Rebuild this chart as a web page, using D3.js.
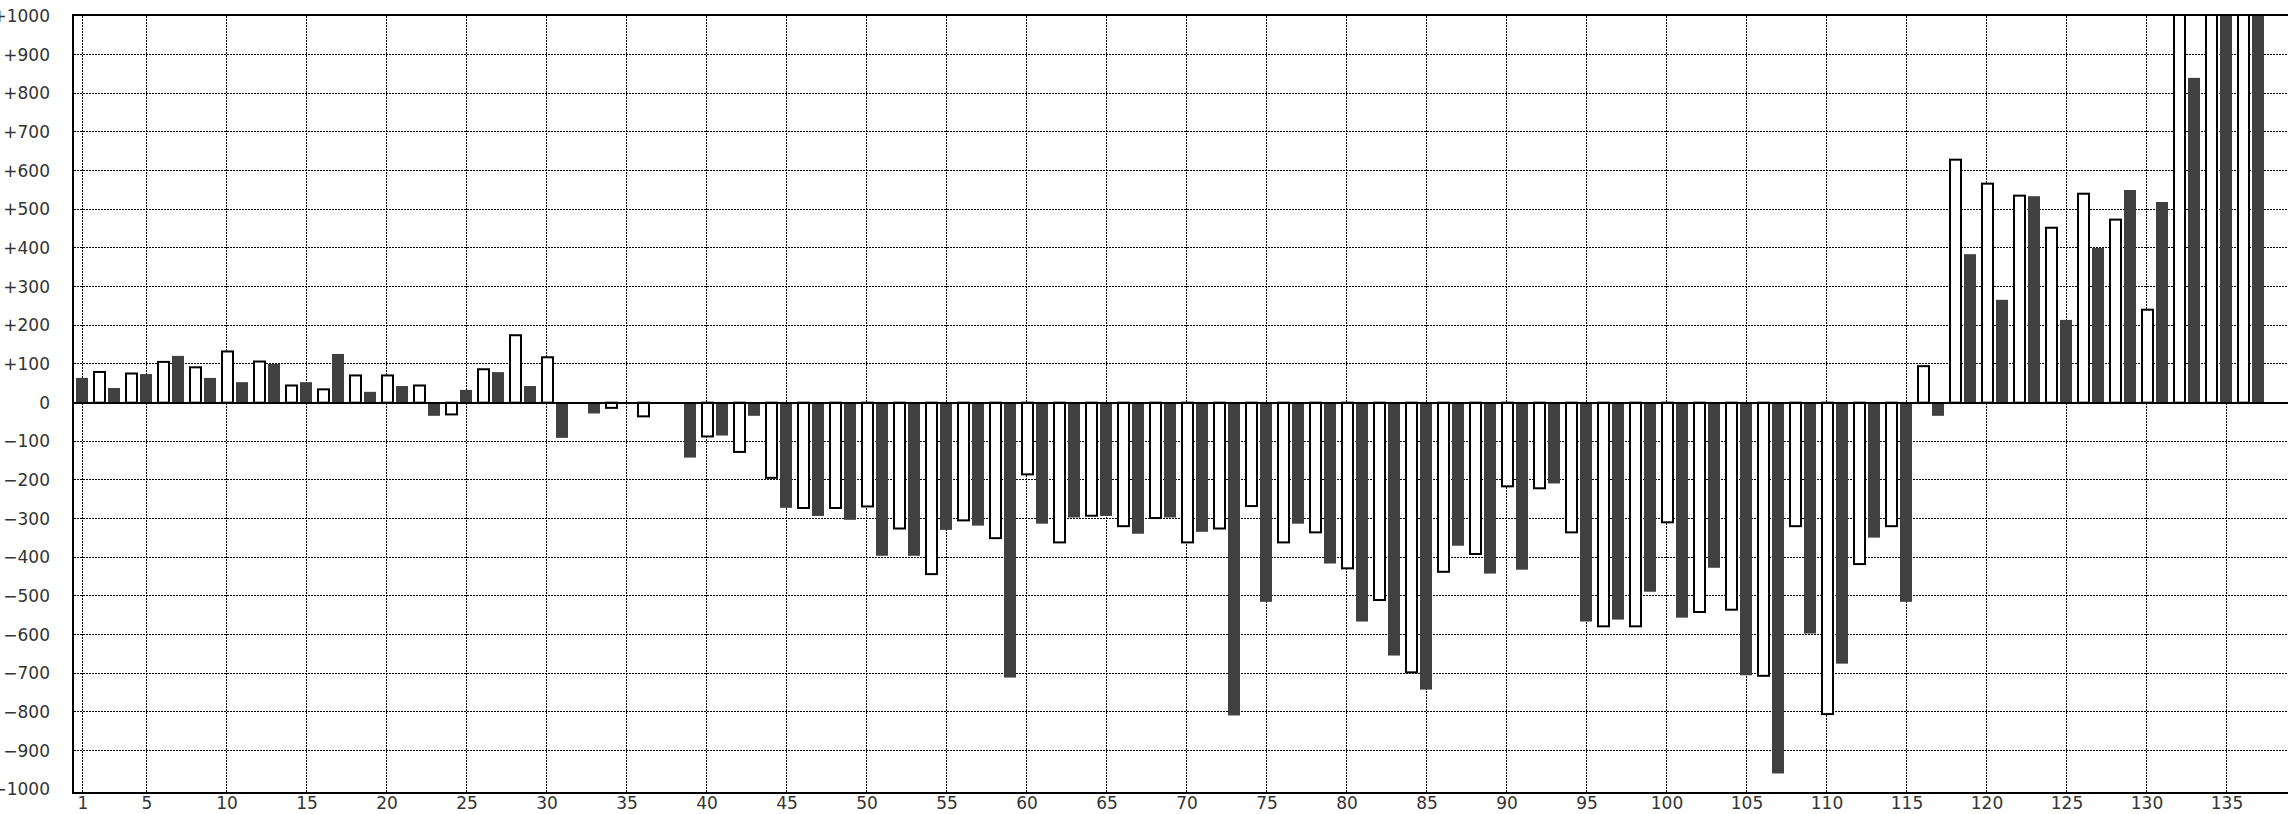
<!DOCTYPE html>
<html>
<head>
<meta charset="utf-8">
<script src="https://cdn.jsdelivr.net/npm/d3@7"></script>
<style>
  html, body { margin: 0; padding: 0; background: #fff; }
  svg { display: block; }
  text { font-family: "DejaVu Sans", sans-serif; font-size: 17px; fill: #333; }
</style>
</head>
<body>
<svg id="chart" width="2288" height="814"></svg>
<script>
// ---- data ----
const categories = d3.range(1, 138); // bar index 1..137
// odd index = dark bar, even index = white bar
const values = [
  64, 82, 38, 78, 74, 108, 121, 94, 64, 135,
  53, 109, 100, 47, 53, 37, 126, 73, 28, 73,
  43, 47, -34, -33, 33, 89, 79, 177, 43, 120,
  -91, 0, -28, -16, 0, -38, 0, 0, -142, -90,
  -85, -130, -34, -197, -272, -275, -293, -275, -303, -271,
  -396, -328, -396, -446, -329, -307, -318, -353, -711, -188,
  -313, -364, -297, -295, -293, -322, -339, -301, -297, -364,
  -334, -328, -809, -270, -515, -364, -313, -338, -416, -431,
  -566, -513, -654, -700, -742, -440, -370, -394, -442, -219,
  -432, -224, -209, -338, -566, -581, -561, -581, -489, -312,
  -556, -544, -427, -538, -705, -709, -959, -322, -597, -808,
  -675, -420, -349, -322, -515, 97, -34, 631, 384, 569,
  266, 538, 534, 455, 214, 543, 400, 476, 550, 243,
  519, 1150, 840, 1250, 1300, 1350, 1400
];
const xTicks = [1, 5, 10, 15, 20, 25, 30, 35, 40, 45, 50, 55, 60, 65, 70,
  75, 80, 85, 90, 95, 100, 105, 110, 115, 120, 125, 130, 135];
const yTicks = [1000, 900, 800, 700, 600, 500, 400, 300, 200, 100, 0,
  -100, -200, -300, -400, -500, -600, -700, -800, -900, -1000];
const yGrid = [900, 800, 700, 600, 500, 400, 300, 200, 100,
  -100, -200, -300, -400, -500, -600, -700, -800, -900];

// ---- layout ----
const W = 2288, H = 814;
const plotLeft = 73, plotTop = 15, plotBottom = 793;

const x = d3.scaleLinear().domain([1, 135]).range([82, 82 + 134 * 16]);
const y = d3.scaleLinear().domain([-1000, 1000]).range([789.33, 16]);

const svg = d3.select("#chart");

svg.append("defs").append("clipPath").attr("id", "plotClip")
  .append("rect").attr("x", plotLeft + 1).attr("y", plotTop + 1)
  .attr("width", W - plotLeft).attr("height", plotBottom - plotTop - 2);

// gridlines
const grid = svg.append("g").attr("shape-rendering", "crispEdges");
grid.selectAll("line.h").data(yGrid).join("line")
  .attr("class", "h")
  .attr("x1", plotLeft + 1).attr("x2", W)
  .attr("y1", d => Math.floor(y(d)) + 0.5).attr("y2", d => Math.floor(y(d)) + 0.5)
  .attr("stroke", "#000").attr("stroke-width", 1).attr("stroke-dasharray", "2,1");
grid.selectAll("line.v").data(xTicks).join("line")
  .attr("class", "v")
  .attr("x1", d => x(d) + 0.5).attr("x2", d => x(d) + 0.5)
  .attr("y1", plotTop + 1).attr("y2", plotBottom - 1)
  .attr("stroke", "#000").attr("stroke-width", 1).attr("stroke-dasharray", "2,1");

// bars
const bars = svg.append("g").attr("clip-path", "url(#plotClip)");
const data = categories.map((c, i) => ({ c, v: values[i] }));
bars.selectAll("rect.dark").data(data.filter(d => d.c % 2 === 1)).join("rect")
  .attr("class", "dark")
  .attr("x", d => x(d.c) - 6)
  .attr("width", 12)
  .attr("y", d => Math.min(y(d.v), y(0)))
  .attr("height", d => Math.abs(y(d.v) - y(0)))
  .attr("fill", "#404040");
bars.selectAll("rect.white").data(data.filter(d => d.c % 2 === 0 && d.v !== 0)).join("rect")
  .attr("class", "white")
  .attr("x", d => x(d.c) - 4)
  .attr("width", 11)
  .attr("y", d => Math.min(y(d.v), y(0)) + (d.v > 0 ? 1 : 0))
  .attr("height", d => Math.abs(y(d.v) - y(0)) - 1)
  .attr("fill", "#fff")
  .attr("stroke", "#000")
  .attr("stroke-width", 2);

// frame lines
const frame = svg.append("g").attr("shape-rendering", "crispEdges").attr("stroke", "#000").attr("stroke-width", 2);
frame.append("line").attr("x1", plotLeft).attr("x2", plotLeft).attr("y1", plotTop - 1).attr("y2", plotBottom + 1);
frame.append("line").attr("x1", plotLeft - 1).attr("x2", W).attr("y1", plotTop).attr("y2", plotTop);
frame.append("line").attr("x1", plotLeft - 1).attr("x2", W).attr("y1", plotBottom).attr("y2", plotBottom);
frame.append("line").attr("x1", plotLeft).attr("x2", W).attr("y1", 403).attr("y2", 403);

// axes labels
const fmtY = d => d > 0 ? "+" + d : (d < 0 ? "\u2212" + Math.abs(d) : "0");
const yAxis = svg.append("g").attr("transform", `translate(${plotLeft},0)`)
  .call(d3.axisLeft(y).tickValues(yTicks).tickFormat(fmtY).tickSize(0).tickPadding(23));
yAxis.select(".domain").remove();
yAxis.selectAll("text").attr("fill", "#333").style("font-size", "17px").style("font-family", "DejaVu Sans");

const xAxis = svg.append("g").attr("transform", `translate(0.5,${plotBottom})`)
  .call(d3.axisBottom(x).tickValues(xTicks).tickFormat(d3.format("d")).tickSize(0).tickPadding(4));
xAxis.select(".domain").remove();
xAxis.selectAll("text").attr("fill", "#333").style("font-size", "17px").style("font-family", "DejaVu Sans");
</script>
</body>
</html>
